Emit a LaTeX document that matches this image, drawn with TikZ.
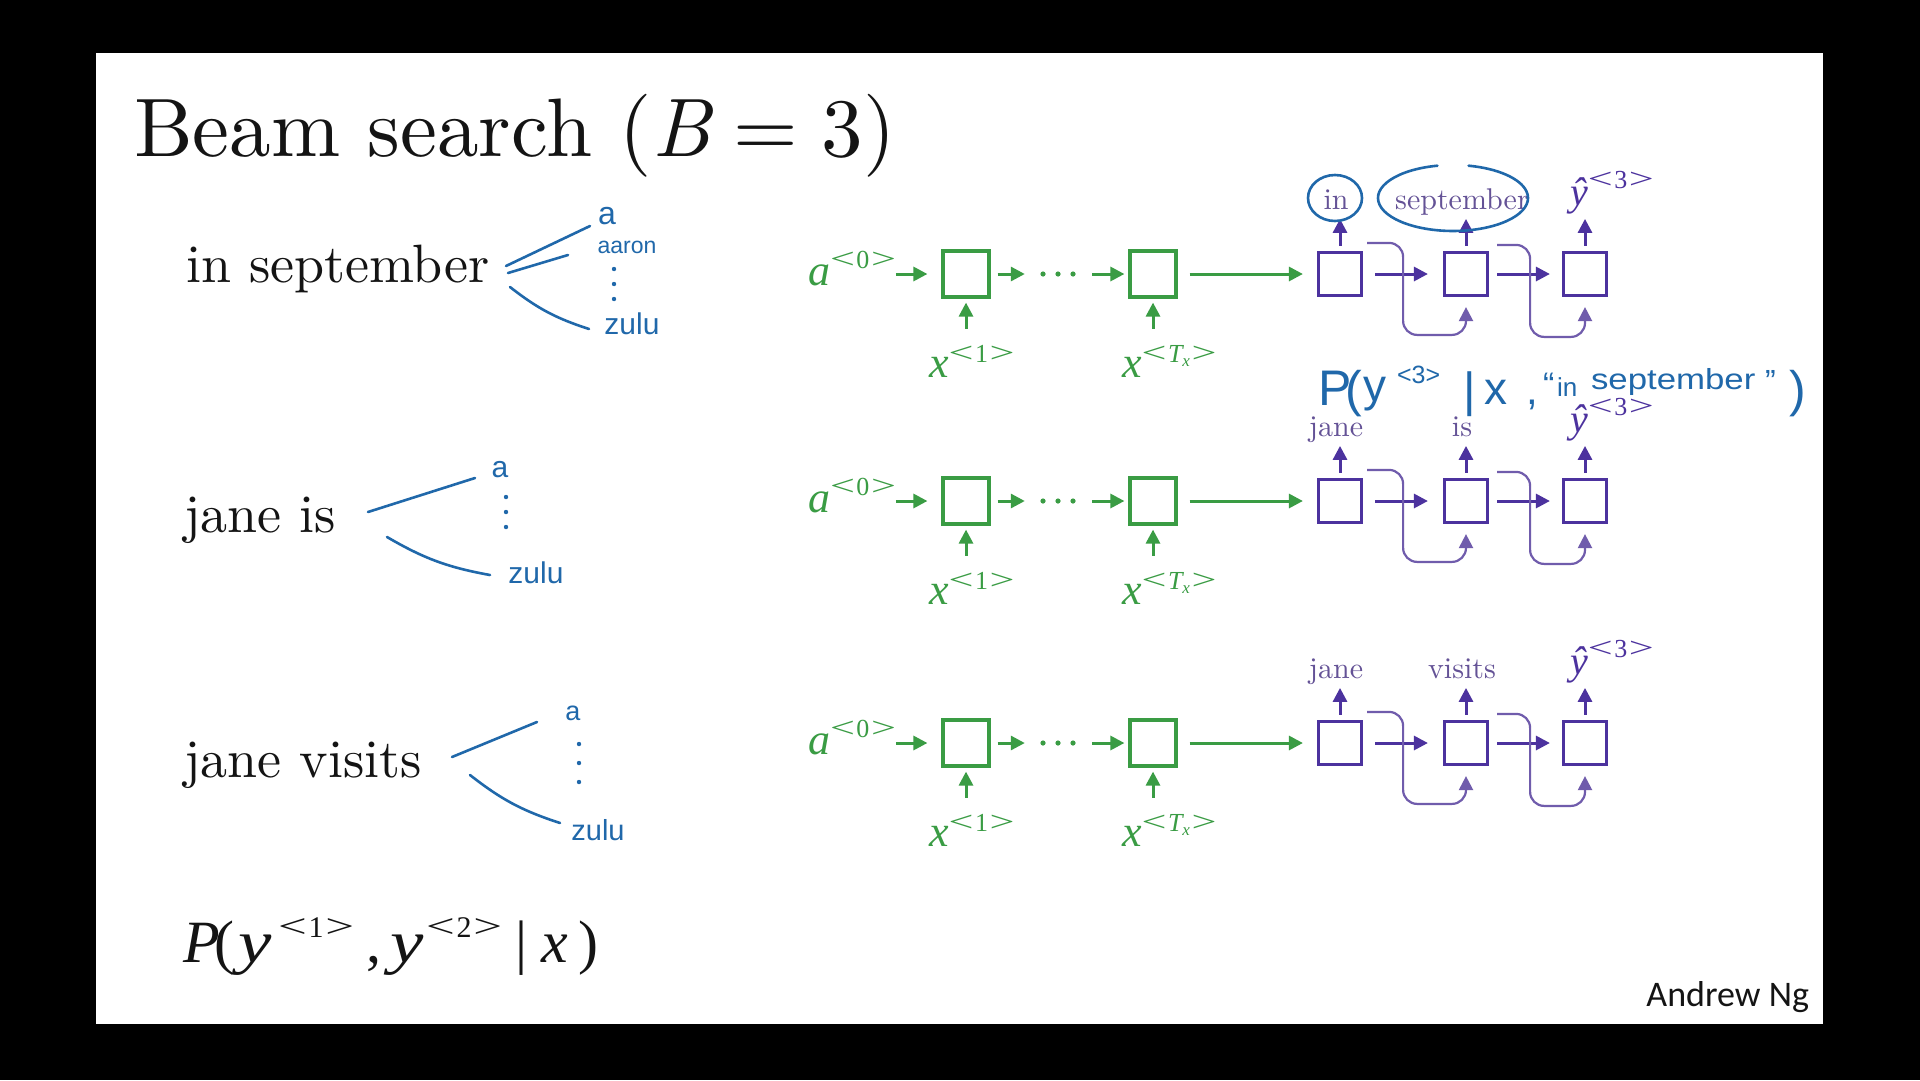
\documentclass[tikz,border=0pt]{standalone}
\usepackage{fontspec}
\setmainfont{lmroman10-regular.otf}[ItalicFont=lmroman10-italic.otf]
\usetikzlibrary{arrows.meta}
\newfontfamily\cam{Liberation Serif}
\newfontfamily\hand{Liberation Sans}
\newfontfamily\calib{Carlito}
\newcommand{\fsz}[1]{\fontsize{#1}{#1}\selectfont}
% raised superscript: \hi{raise}{size}{text}
\newcommand{\hi}[3]{\raisebox{#1}{\fsz{#2}#3}}
% index in wide angle brackets, as set by the equation editor
\newcommand{\ang}[1]{\scalebox{1.7}[1.1]{<}\kern0.06em#1\kern0.06em\scalebox{1.7}[1.1]{>}}
\definecolor{rnngreen}{RGB}{58,156,68}
\definecolor{rnnpurple}{RGB}{76,50,158}
\definecolor{wordpurple}{RGB}{100,82,150}
\definecolor{penblue}{RGB}{32,104,170}
\definecolor{loopline}{RGB}{112,92,172}
\definecolor{ink}{RGB}{20,20,20}

\begin{document}
\begin{tikzpicture}[x=1pt,y=-1pt,
  txt/.style={inner sep=0pt, outer sep=0pt},
  cell/.style={draw, line width=3.2pt, inner sep=0pt, minimum size=46pt},
  gcell/.style={cell, draw=rnngreen},
  pcell/.style={cell, draw=rnnpurple, minimum size=43pt},
  tip/.style={-{Triangle[length=14pt,width=14pt]}},
  garrow/.style={tip, rnngreen, line width=3pt},
  parrow/.style={tip, rnnpurple, line width=3pt},
  loop/.style={tip, loopline, line width=2.2pt, rounded corners=14pt},
  pen/.style={penblue, line width=2.6pt, line cap=round},
  hw/.style={txt, penblue, font=\hand},
  gdot/.style={fill=rnngreen},
  pdot/.style={fill=penblue}]

% frame: dark surround and white slide
\fill[black] (0,0) rectangle (1920,1080);
\fill[white] (96,53) rectangle (1823,1024);
\useasboundingbox (0,0) rectangle (1920,1080);

% title
\node[txt, anchor=base west, ink] (title) at (134,156)
  {\fsz{83}Beam search ({\itshape B}\kern0.28em=\kern0.28em3)};

% partial hypotheses kept by the beam
\node[txt, anchor=base west, ink] (pre1) at (186,282) {\fsz{54}in september};
\node[txt, anchor=base west, ink] (pre2) at (184,532) {\fsz{54}jane is};
\node[txt, anchor=base west, ink] (pre3) at (184,777) {\fsz{54}jane visits};

% hand-drawn branches to the vocabulary
\draw[pen] (506,266) -- (590,226);
\draw[pen] (508,273) -- (568,255);
\draw[pen] (510,287) to[bend right=10] (589,329);
\node[hw] (v1a) at (607,216) {\fsz{32}a};
\node[hw] (v1b) at (627,247) {\fsz{23}aaron};
\node[hw] (v1z) at (632,324) {\fsz{30}zulu};
\foreach \d in {269,284,299} \fill[pdot] (614,\d) circle (2.2pt);

\draw[pen] (368,512) -- (475,478);
\draw[pen] (387,537) to[bend right=10] (490,575);
\node[hw] (v2a) at (500,470) {\fsz{30}a};
\node[hw] (v2z) at (536,573) {\fsz{30}zulu};
\foreach \d in {497,512,527} \fill[pdot] (506,\d) circle (2.2pt);

\draw[pen] (452,757) -- (537,722);
\draw[pen] (470,775) to[bend right=10] (560,823);
\node[hw] (v3a) at (573,713) {\fsz{27}a};
\node[hw] (v3z) at (598,830) {\fsz{29}zulu};
\foreach \d in {744,763,782} \fill[pdot] (579,\d) circle (2.2pt);

% encoder-decoder network, one per beam entry
\foreach \r/\yy/\wa/\wb in {1/274/in/september, 2/501/jane/is, 3/743/jane/visits} {
  \node[gcell] (ga\r) at (966,\yy) {};
  \node[gcell] (gb\r) at (1153,\yy) {};
  \node[pcell] (pa\r) at (1340,\yy) {};
  \node[pcell] (pb\r) at (1466,\yy) {};
  \node[pcell] (pc\r) at (1585,\yy) {};

  % encoder labels
  \node[txt, anchor=base west, rnngreen] (a0\r) at (808,\yy+11)
    {\cam{\fsz{44}\itshape a}\hi{17pt}{26}{\cam\ang{0}}};
  \node[txt, anchor=base west, rnngreen] (x1\r) at (929,\yy+103)
    {\cam{\fsz{44}\itshape x}\hi{15pt}{26}{\cam\ang{1}}};
  \node[txt, anchor=base west, rnngreen] (xt\r) at (1122,\yy+103)
    {\cam{\fsz{44}\itshape x}\hi{15pt}{26}{\cam\ang{{\itshape T}\raisebox{-4pt}{\fsz{17}\itshape x}}}};

  % ellipsis between encoder cells
  \node[inner sep=0pt, minimum width=36pt, minimum height=6pt] (dt\r) at (1058,\yy) {};
  \foreach \dx in {-15,0,15} \fill[gdot] ([xshift=\dx pt]dt\r.center) circle (2.6pt);

  % encoder connections
  \draw[garrow] (a0\r.east |- ga\r.west) -- ([xshift=-14pt]ga\r.west);
  \draw[garrow] ([xshift=7pt]ga\r.east) -- ([xshift=-15pt]dt\r.west);
  \draw[garrow] ([xshift=16pt]dt\r.east) -- ([xshift=-4pt]gb\r.west);
  \draw[garrow] ([xshift=12pt]gb\r.east) -- ([xshift=-14pt]pa\r.west);
  \draw[garrow] ([yshift=-30pt]ga\r.south) -- ([yshift=-4pt]ga\r.south);
  \draw[garrow] ([yshift=-30pt]gb\r.south) -- ([yshift=-4pt]gb\r.south);

  % decoder connections
  \draw[parrow] ([xshift=12pt]pa\r.east) -- ([xshift=-15pt]pb\r.west);
  \draw[parrow] ([xshift=8pt]pb\r.east) -- ([xshift=-12pt]pc\r.west);
  \foreach \c in {pa,pb,pc}
    \draw[parrow] ([yshift=5pt]\c\r.north) -- ([yshift=32pt]\c\r.north);

  % previous output fed back into the next decoder step
  \draw[loop] ([shift={(4,-8)}]pa\r.north east) -- ++(36,0) -- ++(0,92)
    -| ([yshift=-10pt]pb\r.south);
  \draw[loop] ([shift={(8,-6)}]pb\r.north east) -- ++(33,0) -- ++(0,92)
    -| ([yshift=-10pt]pc\r.south);

  % decoder outputs
  \node[txt, anchor=base, wordpurple] (wa\r) at (1336,\yy-65) {\fsz{30}\wa};
  \node[txt, anchor=base, wordpurple] (wb\r) at (1462,\yy-65) {\fsz{30}\wb};
  \node[txt, anchor=base west, rnnpurple] (yh\r) at (1570,\yy-69)
    {\cam{\fsz{40}\itshape ŷ}\hi{17pt}{26}{\cam\ang{3}}};
}

% chosen words circled
\draw[pen] (1335,198) ellipse [x radius=27pt, y radius=23pt];
\draw[pen] (1437.4,165.7) arc[start angle=102, end angle=438, x radius=75pt, y radius=33pt];

% hand-written conditional probability
\node[hw, anchor=base west] (hP) at (1318,405) {\fsz{50}P};
\node[hw, anchor=base west] (hL) at (1345,406) {\fsz{50}(};
\node[hw, anchor=base west] (hy) at (1363,401) {\fsz{46}y};
\node[hw, anchor=base west] (h3) at (1397,383) {\fsz{25}<3>};
\node[hw, anchor=base west] (hbar) at (1463,406) {\fsz{48}|};
\node[hw, anchor=base west] (hx) at (1484,404) {\fsz{46}x};
\node[hw, anchor=base west] (hc) at (1526,404) {\fsz{42},};
\node[hw, anchor=base west] (hq) at (1543,396) {\fsz{34}“};
\node[hw, anchor=base west] (hin) at (1557,396) {\fsz{26}in};
\node[hw, anchor=base west] (hsep) at (1591,389) {\scalebox{1.2}[1]{\fsz{29}september}};
\node[hw, anchor=base west] (hq2) at (1765,392) {\fsz{32}”};
\node[hw, anchor=base west] (hR) at (1789,406) {\fsz{50})};

% probability of the first two words
\node[txt, anchor=base west, ink] (prob) at (183,962) {\cam\fsz{60}%
  \makebox[31pt][l]{\itshape P}%
  \makebox[24pt][l]{(}%
  \makebox[40pt][l]{\scalebox{1.25}[1]{\itshape y}}%
  \makebox[88pt][l]{\hi{25pt}{30}{\ang{1}}}%
  \makebox[24pt][l]{,}%
  \makebox[36pt][l]{\scalebox{1.25}[1]{\itshape y}}%
  \makebox[89pt][l]{\hi{25pt}{30}{\ang{2}}}%
  \makebox[26pt][l]{|}%
  \makebox[37pt][l]{\itshape x}%
  )};

\node[txt, anchor=base east, ink] (author) at (1809,1006) {\calib\fsz{36}Andrew Ng};
\end{tikzpicture}
\end{document}
